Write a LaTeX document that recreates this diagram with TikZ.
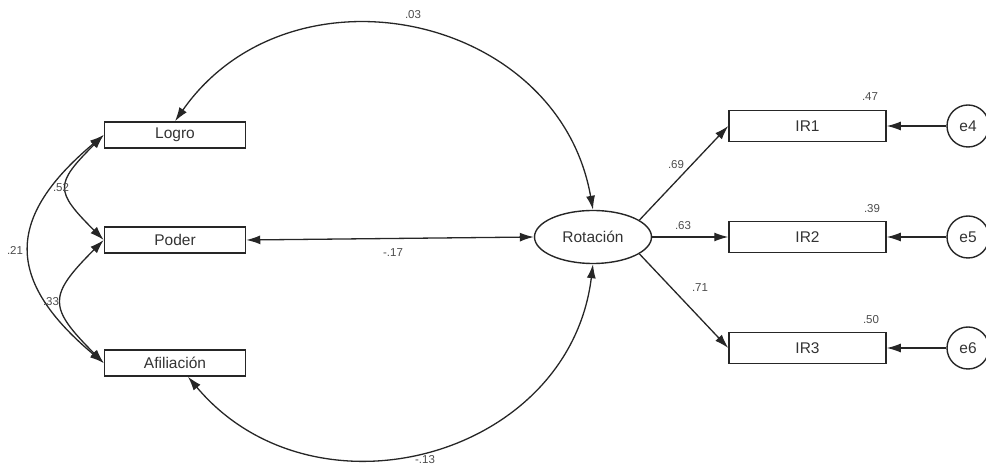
\documentclass[tikz,border=0pt]{standalone}
\usepackage{fontspec}
\setmainfont{Liberation Sans}
\usetikzlibrary{shapes.geometric,arrows.meta}

\begin{document}
\begin{tikzpicture}[x=1pt, y=1pt,
  obs/.style={draw=black!85, line width=1.5pt, minimum width=141pt, minimum height=26pt, inner sep=0pt, text=black!80, font=\fontsize{15.5}{16}\selectfont},
  ind/.style={obs, minimum width=157pt, minimum height=31pt},
  lat/.style={draw=black!85, ellipse, line width=1.4pt, minimum width=117pt, minimum height=53pt, inner sep=0pt, text=black!80, font=\fontsize{15.5}{16}\selectfont},
  err/.style={draw=black!85, circle, line width=1.4pt, minimum size=42pt, inner sep=0pt, text=black!80, font=\fontsize{15.5}{16}\selectfont},
  coef/.style={text=black!70, font=\fontsize{11.5}{12}\selectfont},
  regr/.style={draw=black!85, line width=1.3pt, -{Latex[length=14pt,width=9pt]}},
  covar/.style={draw=black!85, line width=1.3pt, {Latex[length=14pt,width=9pt]}-{Latex[length=14pt,width=9pt]}}
]
\useasboundingbox (0,0) rectangle (986,471);

\node[obs] (logro) at (175,336) {Logro};
\node[obs] (poder) at (175,231) {Poder};
\node[obs] (afil)  at (175,108) {Afiliación};

\node[lat] (rot) at (593,234) {Rotación};

\node[ind] (ir1) at (807.5,345) {IR1};
\node[ind] (ir2) at (807.5,234) {IR2};
\node[ind] (ir3) at (807.5,123) {IR3};

\node[err] (e4) at (968,345) {e4};
\node[err] (e5) at (968,234) {e5};
\node[err] (e6) at (968,123) {e6};

% covariances
\draw[covar] (logro.west) to[out=-135, in=135, looseness=1.7] (poder.west);
\draw[covar] (poder.west) to[out=-135, in=135, looseness=1.65] (afil.west);
\draw[covar] (logro.west) to[out=-140, in=140, looseness=1.45] (afil.west);
\draw[covar] (logro.north) to[out=55, in=100, looseness=1.2] (rot.north);
\draw[covar] ([xshift=13pt]afil.south) to[out=-50, in=-97, looseness=1.19] (rot.south);
\draw[covar] (poder.east) -- (rot.west);

% loadings
\draw[regr] (rot.20) -- (ir1.west);
\draw[regr] (rot.east) -- (ir2.west);
\draw[regr] (rot.-20) -- (ir3.west);

\draw[regr] (e4) -- (ir1.east);
\draw[regr] (e5) -- (ir2.east);
\draw[regr] (e6) -- (ir3.east);

\node[coef] (c52) at (61,283) {.52};
\node[coef] (c21) at (15,221) {.21};
\node[coef] (c33) at (51,169) {.33};
\node[coef] (c03) at (413,456) {.03};
\node[coef] (c13) at (425,11) {-.13};
\node[coef] (c17) at (393,218) {-.17};
\node[coef] (c69) at (676,306) {.69};
\node[coef] (c63) at (683,245) {.63};
\node[coef] (c71) at (700,183) {.71};
\node[coef] (c47) at (870,374) {.47};
\node[coef] (c39) at (872,262) {.39};
\node[coef] (c50) at (871,151) {.50};

\end{tikzpicture}
\end{document}
